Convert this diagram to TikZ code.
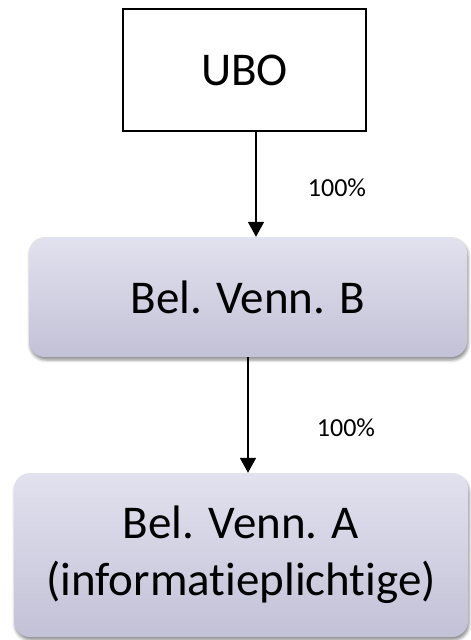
\documentclass[tikz,border=0pt]{standalone}
\usepackage{fontspec}
\setmainfont{Carlito}[Ligatures=NoCommon]
\usetikzlibrary{arrows.meta,shadows.blur}
\definecolor{boxtop}{HTML}{E2E1EE}
\definecolor{boxbot}{HTML}{C3C1D7}
\begin{document}
\begin{tikzpicture}[x=1pt,y=-1pt,
  ubobox/.style={draw=black,line width=1.3pt,fill=white,minimum width=243pt,minimum height=122pt,font=\fontsize{47}{57}\selectfont,inner sep=0pt},
  entbox/.style={rounded corners=16pt,top color=boxtop,bottom color=boxbot,draw=none,
    blur shadow={shadow xshift=1pt,shadow yshift=-3pt,shadow blur radius=3pt,shadow opacity=45},
    font=\fontsize{47}{57}\selectfont,align=center,inner sep=0pt},
  arr/.style={line width=1.7pt,-{Triangle[width=16pt,length=15pt]}},
  pct/.style={font=\fontsize{26}{30}\selectfont,inner sep=0pt}]
\useasboundingbox (0,0) rectangle (471,640);
\node[ubobox] (ubo) at (244.5,70) {UBO};
\node[entbox,minimum width=438pt,minimum height=120pt] (b) at (248,297) {Bel. Venn. B};
\node[entbox,minimum width=454pt,minimum height=164pt] (a) at (241,555) {Bel. Venn. A\\(informatieplichtige)};
\coordinate (x1) at (256,0);
\coordinate (x2) at (248,0);
\draw[arr] (ubo.south -| x1) -- (b.north -| x1);
\draw[arr] (b.south -| x2) -- (a.north -| x2);
\node[pct] (p1) at (337,188) {100\%};
\node[pct] (p2) at (346,428) {100\%};
\end{tikzpicture}
\end{document}
